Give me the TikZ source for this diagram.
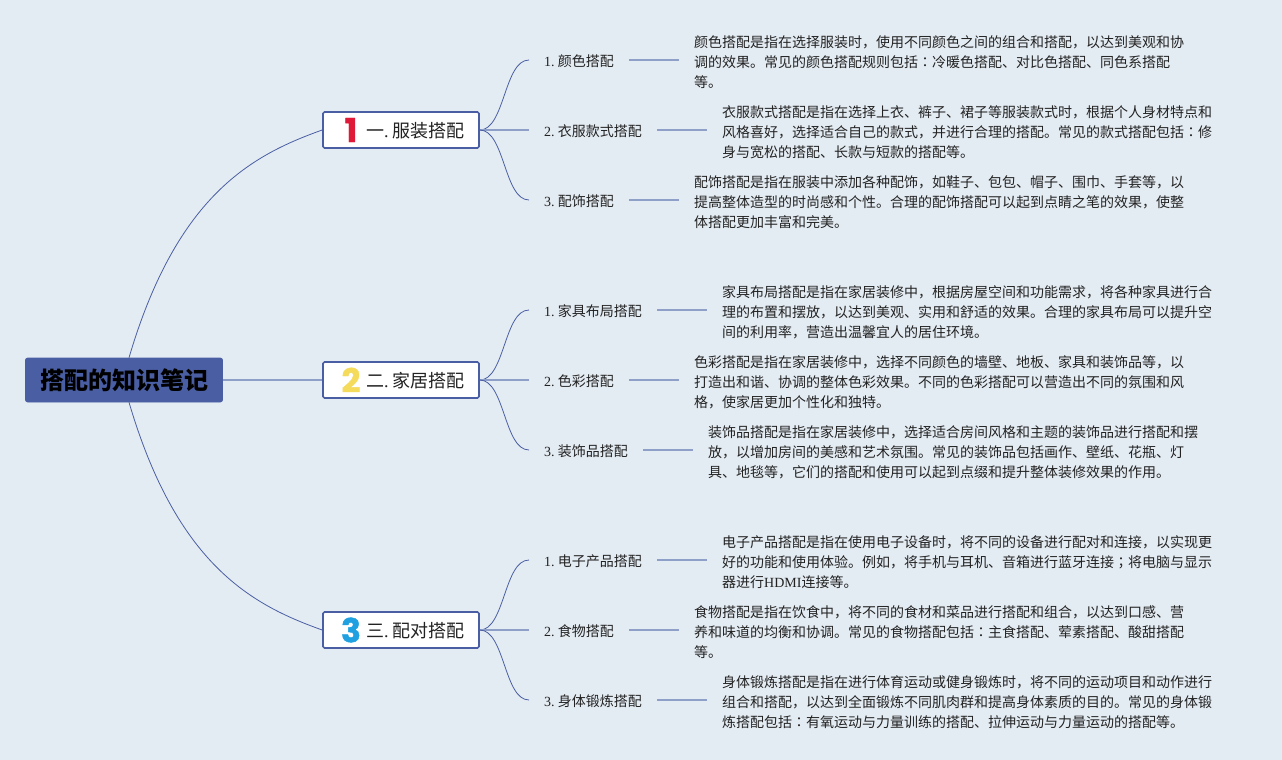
\documentclass[tikz,border=0pt]{standalone}
\usepackage{fontspec}
\usetikzlibrary{calc}
\setmainfont{Noto Sans CJK SC}
\newfontfamily\ser{Liberation Serif}
\newfontfamily\tcf{Noto Sans CJK TC}
\newfontfamily\pop[BoldFeatures={FakeBold=1.2}]{Poppins}
\newcommand{\cl}{{\tcf ：}}
\newcommand{\sm}{{\tcf ；}}
\newcommand{\lab}[1]{{\ser #1.\hspace{3.2pt}}}
\definecolor{bgc}{HTML}{E4ECF3}
\definecolor{navy}{HTML}{4A5EA3}
\definecolor{lite}{HTML}{8E9FC8}
\definecolor{txt}{HTML}{222222}
\definecolor{numred}{HTML}{DF1A38}
\definecolor{numyel}{HTML}{F5DB5C}
\definecolor{numblu}{HTML}{1FA0E0}
\tikzset{
 rootbox/.style={draw=navy,fill=navy,rounded corners=2pt,line width=.6pt,minimum width=197pt,minimum height=44pt,inner sep=0pt,font=\fontsize{24}{28}\selectfont\bfseries,text=black},
 branchbox/.style={draw=navy,fill=white,rounded corners=1.5pt,line width=1.6pt,minimum width=156pt,minimum height=36pt,inner sep=0pt,text=txt},
 subbox/.style={anchor=west,inner xsep=15pt,inner ysep=2pt,text height=13pt,text depth=0pt,font=\fontsize{14}{18}\selectfont,text=txt},
 notebox/.style={anchor=west,align=left,inner xsep=15pt,inner ysep=0pt,font=\fontsize{14}{20.2}\selectfont,text=txt},
 mainlink/.style={draw=navy,line width=.8pt},
 sublink/.style={draw=navy,line width=.8pt},
 straightlink/.style={draw=lite,line width=1.3pt},
 numeral/.style={font=\pop\fontsize{33}{34}\selectfont\bfseries,inner sep=0pt},
 branchtext/.style={font=\fontsize{18}{22}\selectfont,text=txt,inner sep=0pt,anchor=west}
}
\begin{document}
\begin{tikzpicture}[x=1pt,y=-1pt]
\fill[bgc] (0,0) rectangle (1282,760);
\useasboundingbox (0,0) rectangle (1282,760);
% root and branches
\node[rootbox] (root) at (124,380) {搭配的知识笔记};
\node[branchbox] (b1) at (401,130) {};
\node[branchbox] (b2) at (401,380) {};
\node[branchbox] (b3) at (401,630) {};
\node[numeral,text=numred] (n1) at (351,130) {1};
\node[numeral,text=numyel] (n2) at (351,380) {2};
\node[numeral,text=numblu] (n3) at (351,630) {3};
\node[branchtext] (t1) at (366,131) {一{\ser .\hspace{4pt}}服装搭配};
\node[branchtext] (t2) at (366,381) {二{\ser .\hspace{4pt}}家居搭配};
\node[branchtext] (t3) at (366,631) {三{\ser .\hspace{4pt}}配对搭配};
% sub-topics
\node[subbox] (s11) at (529,60)  {\lab{1}颜色搭配};
\node[subbox] (s12) at (529,130) {\lab{2}衣服款式搭配};
\node[subbox] (s13) at (529,200) {\lab{3}配饰搭配};
\node[subbox] (s21) at (529,310) {\lab{1}家具布局搭配};
\node[subbox] (s22) at (529,380) {\lab{2}色彩搭配};
\node[subbox] (s23) at (529,450) {\lab{3}装饰品搭配};
\node[subbox] (s31) at (529,560) {\lab{1}电子产品搭配};
\node[subbox] (s32) at (529,630) {\lab{2}食物搭配};
\node[subbox] (s33) at (529,700) {\lab{3}身体锻炼搭配};
% notes
\node[notebox] (d11) at (679,62.2) {颜色搭配是指在选择服装时，使用不同颜色之间的组合和搭配，以达到美观和协\\调的效果。常见的颜色搭配规则包括\cl 冷暖色搭配、对比色搭配、同色系搭配\\等。};
\node[notebox] (d12) at (707,132.2) {衣服款式搭配是指在选择上衣、裤子、裙子等服装款式时，根据个人身材特点和\\风格喜好，选择适合自己的款式，并进行合理的搭配。常见的款式搭配包括\cl 修\\身与宽松的搭配、长款与短款的搭配等。};
\node[notebox] (d13) at (679,202.2) {配饰搭配是指在服装中添加各种配饰，如鞋子、包包、帽子、围巾、手套等，以\\提高整体造型的时尚感和个性。合理的配饰搭配可以起到点睛之笔的效果，使整\\体搭配更加丰富和完美。};
\node[notebox] (d21) at (707,312.2) {家具布局搭配是指在家居装修中，根据房屋空间和功能需求，将各种家具进行合\\理的布置和摆放，以达到美观、实用和舒适的效果。合理的家具布局可以提升空\\间的利用率，营造出温馨宜人的居住环境。};
\node[notebox] (d22) at (679,382.2) {色彩搭配是指在家居装修中，选择不同颜色的墙壁、地板、家具和装饰品等，以\\打造出和谐、协调的整体色彩效果。不同的色彩搭配可以营造出不同的氛围和风\\格，使家居更加个性化和独特。};
\node[notebox] (d23) at (693,452.2) {装饰品搭配是指在家居装修中，选择适合房间风格和主题的装饰品进行搭配和摆\\放，以增加房间的美感和艺术氛围。常见的装饰品包括画作、壁纸、花瓶、灯\\具、地毯等，它们的搭配和使用可以起到点缀和提升整体装修效果的作用。};
\node[notebox] (d31) at (707,562.2) {电子产品搭配是指在使用电子设备时，将不同的设备进行配对和连接，以实现更\\好的功能和使用体验。例如，将手机与耳机、音箱进行蓝牙连接\sm 将电脑与显示\\器进行{\ser HDMI}连接等。};
\node[notebox] (d32) at (679,632.2) {食物搭配是指在饮食中，将不同的食材和菜品进行搭配和组合，以达到口感、营\\养和味道的均衡和协调。常见的食物搭配包括\cl 主食搭配、荤素搭配、酸甜搭配\\等。};
\node[notebox] (d33) at (707,702.2) {身体锻炼搭配是指在进行体育运动或健身锻炼时，将不同的运动项目和动作进行\\组合和搭配，以达到全面锻炼不同肌肉群和提高身体素质的目的。常见的身体锻\\炼搭配包括\cl 有氧运动与力量训练的搭配、拉伸运动与力量运动的搭配等。};
% root links
\coordinate (rtop) at ($(root.north)+(5,0)$);
\coordinate (rbot) at ($(root.south)+(5,0)$);
\draw[mainlink] (rtop) .. controls +(48,-163) and +(-70,25) .. (b1.west);
\draw[straightlink] (root.east) -- (b2.west);
\draw[mainlink] (rbot) .. controls +(48,163) and +(-70,-25) .. (b3.west);
% branch links
\foreach \b/\p in {b1/s1,b2/s2,b3/s3}{
 \draw[sublink] (\b.east) .. controls +(25,0) and ($(\p1.west)+(-25,0)$) .. (\p1.west);
 \draw[straightlink] (\b.east) -- (\p2.west);
 \draw[sublink] (\b.east) .. controls +(25,0) and ($(\p3.west)+(-25,0)$) .. (\p3.west);
}
% note links
\foreach \s/\d in {s11/d11,s12/d12,s13/d13,s21/d21,s22/d22,s23/d23,s31/d31,s32/d32,s33/d33}{
 \draw[straightlink] (\s.east) -- (\d.west |- \s.east);
}
\end{tikzpicture}
\end{document}
